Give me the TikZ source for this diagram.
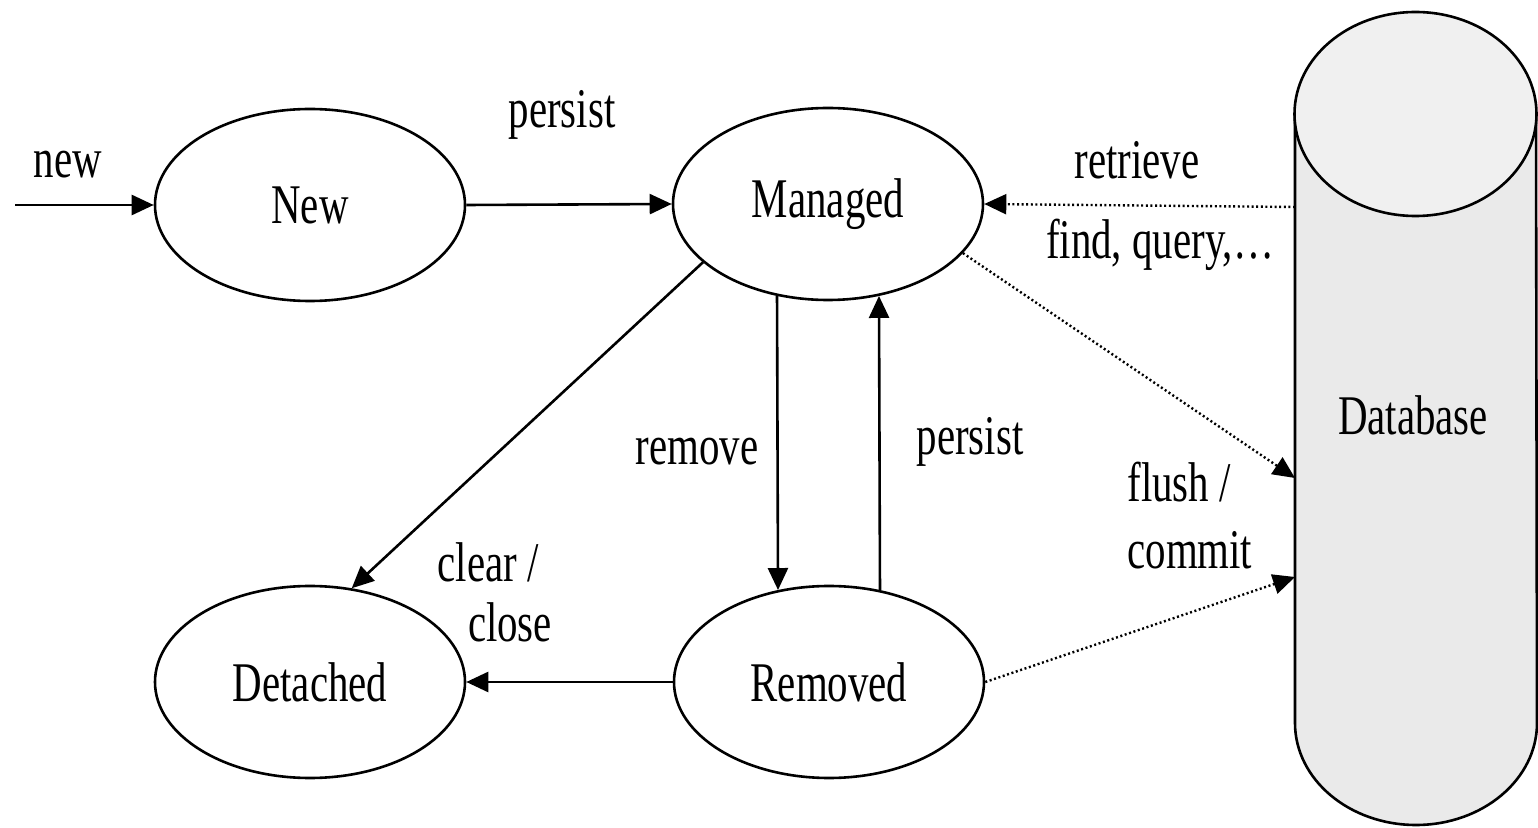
\documentclass[tikz,border=0pt]{standalone}
\usepackage{fontspec}
\setmainfont{Liberation Serif}[FakeStretch=0.73]
\usetikzlibrary{shapes.geometric,arrows.meta}
\definecolor{cylfill}{RGB}{234,234,234}
\begin{document}
\begin{tikzpicture}[x=0.5pt,y=-0.5pt,
  txt/.style={font=\fontsize{28}{33.5}\selectfont, inner sep=0pt},
  state/.style={txt, draw, line width=1.3pt, ellipse, minimum width=155pt, minimum height=96pt},
  arr/.style={line width=1.3pt, -{Triangle[length=11pt,width=10pt]}},
  dotarr/.style={line width=1.2pt, dash pattern=on 1pt off 1.3pt, -{Triangle[length=11pt,width=10pt]}}]
\useasboundingbox (0,0) rectangle (1538,828);
% database cylinder
\fill[cylfill] (1295,114) -- (1295,723) arc[start angle=180, end angle=360, x radius=60.5pt, y radius=51pt] -- (1536,114) -- cycle;
\draw[line width=1.3pt] (1295,114) -- (1295,723) arc[start angle=180, end angle=360, x radius=60.5pt, y radius=51pt] -- (1536,114);
\draw[line width=1.3pt, fill=cylfill!70!white] (1415.5,114) ellipse[x radius=60.5pt, y radius=51pt];
\node[txt] (db) at (1413,415) {Database};
\coordinate (db1) at (1295,207);
\coordinate (db2) at (1295,478);
\coordinate (db3) at (1295,577);
% states
\node[state] (new) at (310,205) {New};
\node[state] (man) at (828,204) {Managed};
\node[state] (det) at (310,682) {Detached};
\node[state] (rem) at (829,682) {Removed};
\coordinate (start) at (15,205);
% arrows
\draw[arr] (start) -- (new.west);
\draw[arr] (new.east) -- (man.west);
\draw[arr] (man.205) -- (det.66);
\draw[arr] (man.241) -- (rem.119);
\draw[arr] (rem.61) -- (man.299);
\draw[arr] (rem.west) -- (det.east);
\draw[dotarr] (db1) -- (man.east);
\draw[dotarr] (man.340) -- (db2);
\draw[dotarr] (rem.east) -- (db3);
% labels
\node[txt] (lnew) at (68,165) {new};
\node[txt] (lper1) at (562,115) {persist};
\node[txt] (lret) at (1137,160) {retrieve};
\node[txt] (lfind) at (1160,245) {find, query,…};
\node[txt] (lrem) at (697,452) {remove};
\node[txt] (lper2) at (970,442) {persist};
\node[txt, align=left, anchor=west] (lflush) at (1127,516) {flush /\\commit};
\node[txt] (lclear) at (488,562) {clear /};
\node[txt] (lclose) at (510,622) {close};
\end{tikzpicture}
\end{document}
